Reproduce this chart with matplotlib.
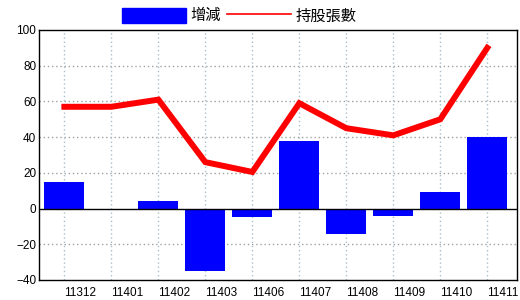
import numpy as np
import matplotlib
matplotlib.use('Agg')
from matplotlib import pyplot as plt
from matplotlib.patches import Patch
from matplotlib.lines import Line2D

plt.rcParams['font.family'] = ['Noto Sans CJK TC', 'DejaVu Sans']

months = ['11312', '11401', '11402', '11403', '11406', '11407', '11408', '11409', '11410', '11411']
change = [15, 0, 4, -35, -5, 38, -14, -4, 9, 40]
holdings = [57, 57, 61, 26, 20.5, 59, 45, 41, 50, 90]

x = np.arange(len(months))

fig = plt.figure(figsize=(5.2, 3), dpi=100)
ax = fig.add_axes([0.075, 0.0667, 0.919, 0.8333])

ax.bar(x, change, width=0.85, color='#0000ff', zorder=2)
ax.plot(x, holdings, color='#ff0000', lw=4.3, zorder=3, solid_joinstyle='miter')
ax.axhline(0, color='black', lw=1, zorder=2.5)

ax.set_xlim(-0.54, 9.63)
ax.set_ylim(-40, 100)
ax.set_yticks(np.arange(-40, 101, 20))
ax.set_xticks(x)
ax.set_xticklabels(months, ha='left', fontsize=8.5, family='Liberation Sans')
ax.tick_params(axis='x', length=0, pad=5)
ax.tick_params(axis='y', length=0, pad=2, labelsize=8.5)
for lab in ax.get_yticklabels():
    lab.set_family('Liberation Sans')

for v in np.arange(-20, 100, 20):
    if v != 0:
        ax.axhline(v, color='#a0a0a0', lw=1, ls=(0, (1, 2)), zorder=1)
for xi in x:
    ax.axvline(xi, color='#a8c0cc', lw=1, ls=(0, (1, 2)), zorder=1)

for s in ax.spines.values():
    s.set_color('black')
    s.set_linewidth(1)

handles = [Patch(color='#0000ff'), Line2D([], [], color='#ff0000', lw=1.2)]
fig.legend(handles, ['增減', '持股張數'], loc='center', bbox_to_anchor=(0.46, 0.947),
           ncol=2, frameon=False, fontsize=11, handlelength=4.2, handleheight=1.1,
           columnspacing=0.4, handletextpad=0.3, borderpad=0)

fig.savefig('out.png', dpi=100)
